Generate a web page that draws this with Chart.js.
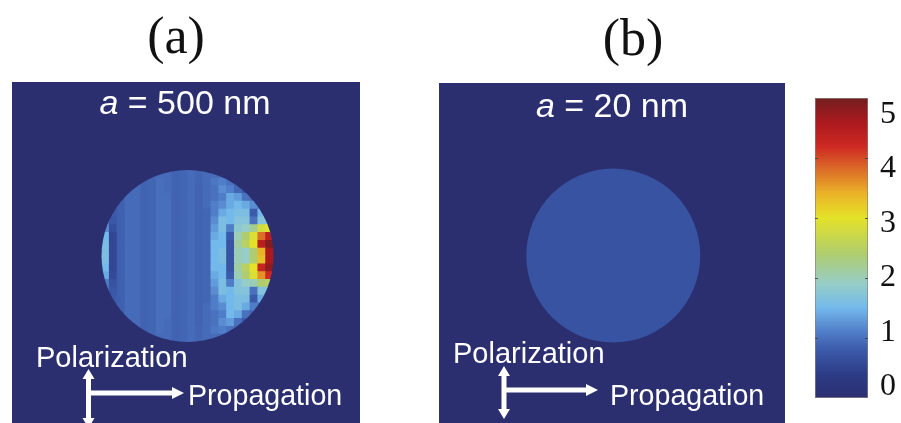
<!DOCTYPE html>
<html>
<head>
<meta charset="utf-8">
<script src="https://cdn.jsdelivr.net/npm/chart.js@4.4.1/dist/chart.umd.min.js"></script>
<style>
  body { margin: 0; width: 901px; height: 423px; background: #fff; position: relative; overflow: hidden; }
  .box { position: absolute; }
  .tag { position: absolute; font-family: "Liberation Serif", "Times New Roman", serif; color: #111; line-height: 1; text-align: center; }
  .lbl { position: absolute; font-family: "Liberation Sans", Arial, sans-serif; color: #fff; line-height: 1; white-space: nowrap; }
</style>
</head>
<body>
<div class="tag" style="left:126px;top:10px;width:100px;font-size:52px">(a)</div>
<div class="tag" style="left:583px;top:12px;width:100px;font-size:52px">(b)</div>

<div class="box" style="left:12px;top:82px;width:348px;height:341px"><canvas id="panelA"></canvas></div>
<div class="box" style="left:439px;top:83px;width:346px;height:340px"><canvas id="panelB"></canvas></div>
<div class="box" style="left:815px;top:88px;width:93px;height:320px"><canvas id="colorBar"></canvas></div>

<div class="lbl" style="left:85px;top:85px;width:200px;text-align:center;font-size:34px"><i>a</i> = 500 nm</div>
<div class="lbl" style="left:512px;top:88px;width:200px;text-align:center;font-size:34px"><i>a</i> = 20 nm</div>
<div class="lbl" style="left:36px;top:343px;font-size:29px">Polarization</div>
<div class="lbl" style="left:188px;top:381px;font-size:28.6px">Propagation</div>
<div class="lbl" style="left:453px;top:339px;font-size:29px">Polarization</div>
<div class="lbl" style="left:610px;top:381px;font-size:28.6px">Propagation</div>

<script>
// Field enhancement |E|/|E0|, rows top to bottom, columns left to right
const panelARadius = 500; // nm
const panelBRadius = 20;  // nm
const gridCols = 22;
const gridRows = 22;
const fieldA = [
  [0.9,0.9,0.9,0.9,0.9,0.9,0.9,0.95,0.95,0.88,0.9,0.95,0.9,0.95,0.95,0.9,0.9,0.9,0.9,0.9,0.9,0.9],
  [0.9,0.9,0.9,0.9,0.9,0.88,0.9,0.98,0.95,0.88,0.9,0.95,0.9,0.95,1.05,1.1,1.0,0.9,0.9,0.9,0.9,0.9],
  [0.9,0.9,0.9,0.95,0.95,0.88,0.9,0.98,0.95,0.88,0.9,0.95,0.88,0.95,1.0,1.2,1.1,0.9,0.8,0.9,0.9,0.9],
  [0.9,0.9,0.85,0.95,0.95,0.88,0.9,0.98,0.98,0.88,0.9,0.95,0.88,0.95,1.0,1.1,1.4,1.3,1.0,0.9,0.9,0.9],
  [0.9,0.8,0.85,0.95,0.95,0.88,0.9,0.98,0.98,0.88,0.9,0.95,0.88,0.95,1.1,1.2,1.4,1.5,1.4,1.2,1.1,0.9],
  [0.9,0.8,0.85,0.95,0.95,0.88,0.9,0.98,0.98,0.88,0.9,0.95,0.88,0.9,1.1,1.4,1.5,1.6,1.6,0.8,1.5,1.2],
  [1.1,0.75,0.85,0.95,0.95,0.88,0.9,0.98,0.98,0.88,0.9,0.95,0.88,0.9,1.2,1.6,1.5,1.7,1.7,1.0,1.7,1.6],
  [1.2,0.65,0.85,0.95,0.95,0.88,0.9,0.98,0.98,0.88,0.9,0.95,0.88,0.9,1.3,1.6,1.1,1.8,1.9,2.2,2.8,3.0],
  [1.5,0.55,0.85,0.95,0.95,0.88,0.9,0.98,0.98,0.88,0.9,0.95,0.88,0.9,1.4,1.5,0.8,2.0,2.4,2.9,3.8,4.4],
  [1.6,0.55,0.85,0.95,0.95,0.88,0.9,0.98,0.98,0.88,0.9,0.95,0.88,0.9,1.5,1.5,0.7,2.1,2.5,3.0,4.4,4.9],
  [1.6,0.55,0.85,0.95,0.95,0.88,0.9,0.98,0.98,0.88,0.9,0.95,0.88,0.9,1.5,1.6,0.7,2.0,1.9,2.4,3.4,4.6],
  [1.6,0.55,0.85,0.95,0.95,0.88,0.9,0.98,0.98,0.88,0.9,0.95,0.88,0.9,1.5,1.6,0.7,2.0,1.9,2.4,3.3,4.6],
  [1.5,0.55,0.85,0.95,0.95,0.88,0.9,0.98,0.98,0.88,0.9,0.95,0.88,0.9,1.5,1.5,0.7,2.1,2.5,3.0,4.3,4.8],
  [1.4,0.6,0.85,0.95,0.95,0.88,0.9,0.98,0.98,0.88,0.9,0.95,0.88,0.9,1.4,1.5,0.8,2.0,2.4,2.9,3.6,4.2],
  [1.1,0.7,0.85,0.95,0.95,0.88,0.9,0.98,0.98,0.88,0.9,0.95,0.88,0.9,1.3,1.6,1.1,1.7,1.9,2.0,2.4,2.5],
  [1.0,0.75,0.85,0.95,0.95,0.88,0.9,0.98,0.98,0.88,0.9,0.95,0.88,0.9,1.2,1.6,1.5,1.7,1.7,1.0,1.7,1.6],
  [0.9,0.8,0.85,0.95,0.95,0.88,0.9,0.98,0.98,0.88,0.9,0.95,0.88,0.9,1.1,1.4,1.5,1.6,1.6,0.8,1.4,1.2],
  [0.9,0.8,0.85,0.95,0.95,0.88,0.9,0.98,0.98,0.88,0.9,0.95,0.88,0.95,1.1,1.2,1.5,1.6,1.4,1.1,1.0,0.9],
  [0.9,0.9,0.85,0.95,0.95,0.88,0.9,0.98,0.98,0.88,0.9,0.95,0.88,0.95,1.0,1.1,1.5,1.4,1.0,0.9,0.9,0.9],
  [0.9,0.9,0.9,0.95,0.95,0.88,0.9,0.98,0.95,0.88,0.9,0.95,0.88,0.95,1.0,1.2,1.3,1.0,0.8,0.9,0.9,0.9],
  [0.9,0.9,0.9,0.9,0.9,0.88,0.9,0.98,0.95,0.88,0.9,0.95,0.9,0.95,1.05,1.1,1.0,0.9,0.9,0.9,0.9,0.9],
  [0.9,0.9,0.9,0.9,0.9,0.9,0.9,0.95,0.95,0.88,0.9,0.95,0.9,0.95,0.95,0.9,0.9,0.9,0.9,0.9,0.9,0.9]
];
// small particle: uniform field inside
const fieldB = 0.7;

// colour bar
const colorTicks = [0, 1, 2, 3, 4, 5];
const colorMin = 0;
const colorMax = 5;

// jet-like colour map of the figure
const cmapStops = [0, 0.4, 0.8, 1.1, 1.5, 1.9, 2.4, 3.0, 3.4, 3.8, 4.2, 4.6, 5.0];
const cmapColors = [
  [43, 47, 111], [45, 60, 135], [60, 90, 170], [80, 125, 200], [115, 185, 235],
  [150, 205, 200], [175, 205, 110], [228, 226, 40], [235, 180, 40], [220, 110, 40],
  [205, 40, 35], [170, 25, 30], [115, 30, 30]
];

function colorFor(v) {
  if (v <= cmapStops[0]) return rgb(cmapColors[0]);
  for (let k = 1; k < cmapStops.length; k++) {
    if (v <= cmapStops[k]) {
      const t = (v - cmapStops[k - 1]) / (cmapStops[k] - cmapStops[k - 1]);
      const a = cmapColors[k - 1], b = cmapColors[k];
      return rgb([0, 1, 2].map(c => a[c] + (b[c] - a[c]) * t));
    }
  }
  return rgb(cmapColors[cmapColors.length - 1]);
}
function rgb(c) {
  return `rgb(${Math.round(c[0])},${Math.round(c[1])},${Math.round(c[2])})`;
}

// Panel background + clip marks to the particle (unit circle)
const panelPlugin = {
  id: 'panel',
  beforeDraw(chart) {
    const { ctx, chartArea: a } = chart;
    ctx.save();
    ctx.fillStyle = colorFor(0);
    ctx.fillRect(a.left, a.top, a.right - a.left, a.bottom - a.top);
    ctx.restore();
  },
  beforeDatasetsDraw(chart) {
    const { ctx, scales: { x, y } } = chart;
    const cx = x.getPixelForValue(0), cy = y.getPixelForValue(0);
    const r = x.getPixelForValue(1) - cx;
    ctx.save();
    ctx.beginPath();
    ctx.arc(cx, cy, r, 0, Math.PI * 2);
    ctx.clip();
  },
  afterDatasetsDraw(chart) {
    chart.ctx.restore();
  },
  afterDraw(chart, args, opts) {
    // polarization / propagation arrows
    const ctx = chart.ctx;
    const [ox, top, bottom, hy, hx] = opts.arrows;
    ctx.save();
    ctx.fillStyle = '#fff';
    ctx.fillRect(ox - 2.5, top + 8, 5, bottom - top - 16);
    ctx.fillRect(ox, hy - 2.5, hx - ox - 11, 5);
    ctx.beginPath();
    ctx.moveTo(ox, top); ctx.lineTo(ox - 6, top + 10); ctx.lineTo(ox + 6, top + 10); ctx.closePath();
    ctx.moveTo(ox, bottom); ctx.lineTo(ox - 6, bottom - 10); ctx.lineTo(ox + 6, bottom - 10); ctx.closePath();
    ctx.moveTo(hx, hy); ctx.lineTo(hx - 12, hy - 6); ctx.lineTo(hx - 12, hy + 6); ctx.closePath();
    ctx.fill();
    ctx.restore();
  }
};

function cellPoints(field) {
  const pts = [];
  field.forEach((row, j) => {
    row.forEach((v, i) => {
      pts.push({ x: -1 + (i + 0.5) * 2 / gridCols, y: 1 - (j + 0.5) * 2 / gridRows, v: v });
    });
  });
  return pts;
}

function panelOptions(xr, yr, arrows) {
  return {
    responsive: true,
    maintainAspectRatio: false,
    animation: false,
    events: [],
    layout: { padding: 0 },
    plugins: { legend: { display: false }, tooltip: { enabled: false }, panel: { arrows } },
    scales: {
      x: { type: 'linear', min: xr[0], max: xr[1], display: false },
      y: { type: 'linear', min: yr[0], max: yr[1], display: false }
    }
  };
}

// Render panel (a): cells of the field map
new Chart(document.getElementById('panelA'), {
  type: 'scatter',
  data: {
    datasets: [{
      label: 'a = ' + panelARadius + ' nm',
      data: cellPoints(fieldA),
      pointStyle: 'rect',
      borderWidth: 0,
      pointRadius: (c) => {
        const x = c.chart.scales.x;
        return (x.getPixelForValue(2 / gridCols) - x.getPixelForValue(0)) / Math.SQRT2 + 0.6;
      },
      backgroundColor: (c) => c.raw ? colorFor(c.raw.v) : null
    }]
  },
  options: panelOptions([-2.041, 2.006], [-1.942, 2.023], [76.5, 287, 346, 311, 172]),
  plugins: [panelPlugin]
});

// Render panel (b): uniform particle
new Chart(document.getElementById('panelB'), {
  type: 'scatter',
  data: {
    datasets: [{
      label: 'a = ' + panelBRadius + ' nm',
      data: [{ x: 0, y: 0, v: fieldB }],
      pointStyle: 'circle',
      borderWidth: 0,
      pointRadius: (c) => {
        const x = c.chart.scales.x;
        return x.getPixelForValue(1) - x.getPixelForValue(0) + 1;
      },
      backgroundColor: colorFor(fieldB)
    }]
  },
  options: panelOptions([-2.003, 1.974], [-1.925, 1.983], [65, 283, 336, 307, 159]),
  plugins: [panelPlugin]
});

// Render colour bar
const barTicksPlugin = {
  id: 'barTicks',
  afterDatasetsDraw(chart) {
    const { ctx, chartArea: a, scales: { y } } = chart;
    ctx.save();
    ctx.strokeStyle = 'rgba(60,60,70,0.8)';
    ctx.lineWidth = 1;
    colorTicks.slice(1, -1).forEach(v => {
      const py = Math.round(y.getPixelForValue(v)) + 0.5;
      ctx.beginPath();
      ctx.moveTo(a.left, py); ctx.lineTo(a.left + 3, py);
      ctx.moveTo(a.right, py); ctx.lineTo(a.right - 3, py);
      ctx.stroke();
    });
    ctx.restore();
  }
};

new Chart(document.getElementById('colorBar'), {
  type: 'bar',
  data: {
    labels: [''],
    datasets: [{
      data: [[colorMin, colorMax]],
      barPercentage: 1,
      categoryPercentage: 1,
      borderWidth: 1,
      borderSkipped: false,
      borderColor: 'rgba(110,95,100,0.8)',
      backgroundColor: (c) => {
        const chart = c.chart;
        if (!chart.chartArea) return null;
        const y = chart.scales.y;
        const g = chart.ctx.createLinearGradient(0, y.getPixelForValue(colorMin), 0, y.getPixelForValue(colorMax));
        cmapStops.forEach((s, k) => g.addColorStop((s - colorMin) / (colorMax - colorMin), rgb(cmapColors[k])));
        return g;
      }
    }]
  },
  options: {
    responsive: true,
    maintainAspectRatio: false,
    animation: false,
    events: [],
    layout: { padding: { top: 10, bottom: 10, left: 0, right: 0 } },
    plugins: { legend: { display: false }, tooltip: { enabled: false } },
    scales: {
      x: { display: false },
      y: { min: colorMin, max: colorMax, display: false },
      yLabels: {
        position: 'right',
        min: -0.2,
        max: 5.3,
        afterBuildTicks: (s) => { s.ticks = colorTicks.map(v => ({ value: v })); },
        afterFit: (s) => { s.paddingTop = 0; s.paddingBottom = 0; },
        grid: { display: false, drawTicks: false },
        border: { display: false },
        ticks: { color: '#111', padding: 12, font: { family: '"Liberation Serif", "Times New Roman", serif', size: 32 } }
      }
    }
  },
  plugins: [barTicksPlugin]
});
</script>
</body>
</html>
